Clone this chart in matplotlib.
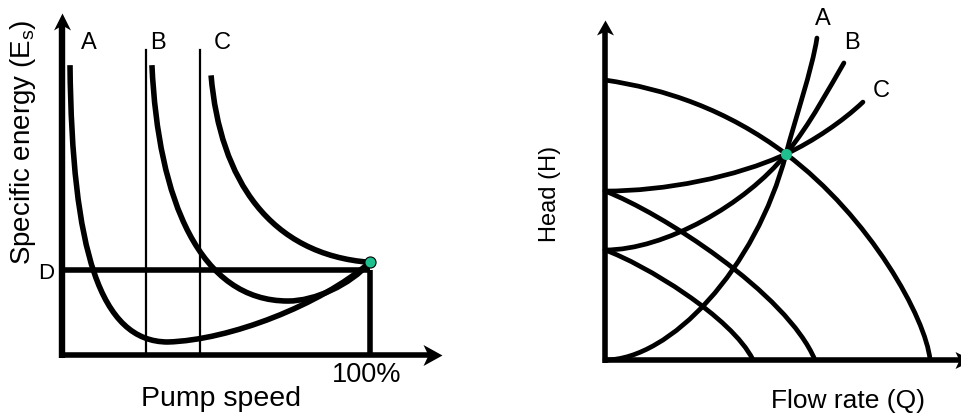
import matplotlib.pyplot as plt
from matplotlib.path import Path
from matplotlib.patches import PathPatch

plt.rcParams['font.family'] = ['Liberation Sans', 'DejaVu Sans']
plt.rcParams['mathtext.fontset'] = 'custom'
plt.rcParams['mathtext.rm'] = 'Liberation Sans'

# ---------- left: specific energy vs pump speed ---------- #
# speed in % of full speed, energy relative to level D
full_speed = 100
level_d = 1.0
op_left = (100, 1.09)
static_limits = [27.2, 44.8]          # speeds where the pump stops delivering

# cubic bezier control points (speed, energy), one chain per system
energy_a = [(2.6, 3.41), (3.25, 1.235), (12.3, 0.153), (34.4, 0.153),
            (54.5, 0.176), (83.8, 0.588), (100, 1.09)]
energy_b = [(29.2, 3.41), (31.2, 1.82), (44.8, 0.635), (73.4, 0.635),
            (82.1, 0.635), (93.5, 0.824), (100, 1.09)]
energy_c = [(48.4, 3.29), (51.3, 2.06), (67.5, 1.18), (100, 1.09)]
left_labels = ['A', 'B', 'C']
left_label_pos = [(8.8, 3.67), (31.2, 3.67), (51.9, 3.67)]

# ---------- right: head vs flow rate ---------- #
# flow and head relative to the duty point
op_right = (1.0, 1.0)
pump_curves = [
    [(0, 1.359), (0.331, 1.316), (0.669, 1.218), (1, 1),
     (1.464, 0.694), (1.773, 0.204), (1.796, 0)],
    [(0, 0.820), (0.304, 0.718), (1.006, 0.325), (1.160, 0)],
    [(0, 0.534), (0.215, 0.466), (0.702, 0.209), (0.818, 0)],
]
system_curves = [
    [(0, 0), (0.359, 0), (0.834, 0.442), (1, 1),
     (1.050, 1.170), (1.144, 1.408), (1.171, 1.563)],
    [(0, 0.534), (0.331, 0.534), (0.779, 0.757), (1, 1),
     (1.138, 1.150), (1.238, 1.320), (1.320, 1.442)],
    [(0, 0.820), (0.331, 0.820), (0.724, 0.888), (1, 1),
     (1.149, 1.061), (1.315, 1.160), (1.425, 1.252)],
]
right_labels = ['A', 'B', 'C']
right_label_pos = [(1.204, 1.655), (1.363, 1.537), (1.529, 1.308)]

DOT = '#1fbf8f'
W, H = 961, 416
fig = plt.figure(figsize=(W / 100, H / 100), dpi=100)


def panel(x0, x1, origin, scale):
    ox, oy = origin
    sx, sy = scale
    ax = fig.add_axes([x0 / W, 0, (x1 - x0) / W, 1])
    ax.set_xlim((x0 - ox) / sx, (x1 - ox) / sx)
    ax.set_ylim((oy - H) / sy, oy / sy)
    ax.axis('off')
    ax.px = scale
    return ax


def bezier(ax, pts, lw, cap):
    codes = [Path.MOVETO] + [Path.CURVE4] * (len(pts) - 1)
    ax.add_patch(PathPatch(Path(pts, codes), fill=False, lw=lw, ec='k',
                           capstyle=cap, joinstyle='round'))


def arrow_axis(ax, start, tip, up, lw, length, width, notch):
    sx, sy = ax.px
    if up:
        end = (tip[0], tip[1] - 0.5 * length / sy)
        verts = [(0, 0), (-width / 2, -length), (0, -length + notch),
                 (width / 2, -length), (0, 0)]
    else:
        end = (tip[0] - 0.5 * length / sx, tip[1])
        verts = [(0, 0), (-length, width / 2), (-length + notch, 0),
                 (-length, -width / 2), (0, 0)]
    ax.plot([start[0], end[0]], [start[1], end[1]], color='k', lw=lw,
            solid_capstyle='butt', clip_on=False)
    codes = [Path.MOVETO, Path.LINETO, Path.LINETO, Path.LINETO, Path.CLOSEPOLY]
    ms = 2 * max(length, width / 2) * 0.72
    ax.plot([tip[0]], [tip[1]], marker=Path(verts, codes), ms=ms, color='k',
            mew=0, clip_on=False)


# ---------------- left panel ---------------- #
ax1 = panel(0, 480, (62, 355), (3.08, 85))
arrow_axis(ax1, (0, -0.03), (0, 4.02), True, 4.6, 17, 17, 5)
arrow_axis(ax1, (-0.9, 0), (123.4, 0), False, 4.0, 19, 21, 5)

for s in static_limits:
    ax1.plot([s, s], [0, 3.59], color='k', lw=1.6)
ax1.plot([0, full_speed], [level_d, level_d], color='k', lw=4.0,
         solid_capstyle='butt')
ax1.plot([full_speed, full_speed], [0, level_d], color='k', lw=4.0,
         solid_capstyle='butt')

for pts in [energy_a, energy_b, energy_c]:
    bezier(ax1, pts, 4.0, 'butt')
ax1.plot(*op_left, marker='o', ms=8, mfc=DOT, mec='k', mew=0.8, zorder=5)

for lab, (x, y) in zip(left_labels, left_label_pos):
    ax1.text(x, y, lab, fontsize=17, ha='center', va='center')
ax1.text(-5.26, 0.953, 'D', fontsize=16, ha='center', va='center')
ax1.text(98.9, -0.235, '100%', fontsize=19.5, ha='center', va='center')
ax1.text(51.6, -0.518, 'Pump speed', fontsize=20.5, ha='center', va='center')
ax1.text(-12.8, 2.5, r'Specific energy (E$_\mathregular{s}$)', fontsize=20,
         rotation=90, ha='center', va='center')

# ---------------- right panel ---------------- #
ax2 = panel(480, 961, (605, 360), (181, 206))
arrow_axis(ax2, (0, -0.013), (0, 1.65), True, 4.0, 15, 17, 4)
arrow_axis(ax2, (-0.013, 0), (2.03, 0), False, 4.0, 17, 17, 4)

for pts in pump_curves:
    bezier(ax2, pts, 3.4, 'butt')
for pts in system_curves:
    bezier(ax2, pts, 3.4, 'round')
ax2.plot(*op_right, marker='o', ms=7, mfc=DOT, mec=DOT, zorder=5)

for lab, (x, y) in zip(right_labels, right_label_pos):
    ax2.text(x, y, lab, fontsize=17, ha='center', va='center')
ax2.text(-0.304, 0.806, 'Head (H)', fontsize=17, rotation=90,
         ha='center', va='center')
ax2.text(1.340, -0.199, 'Flow rate (Q)', fontsize=19, ha='center', va='center')

fig.savefig('out.png', dpi=100)
